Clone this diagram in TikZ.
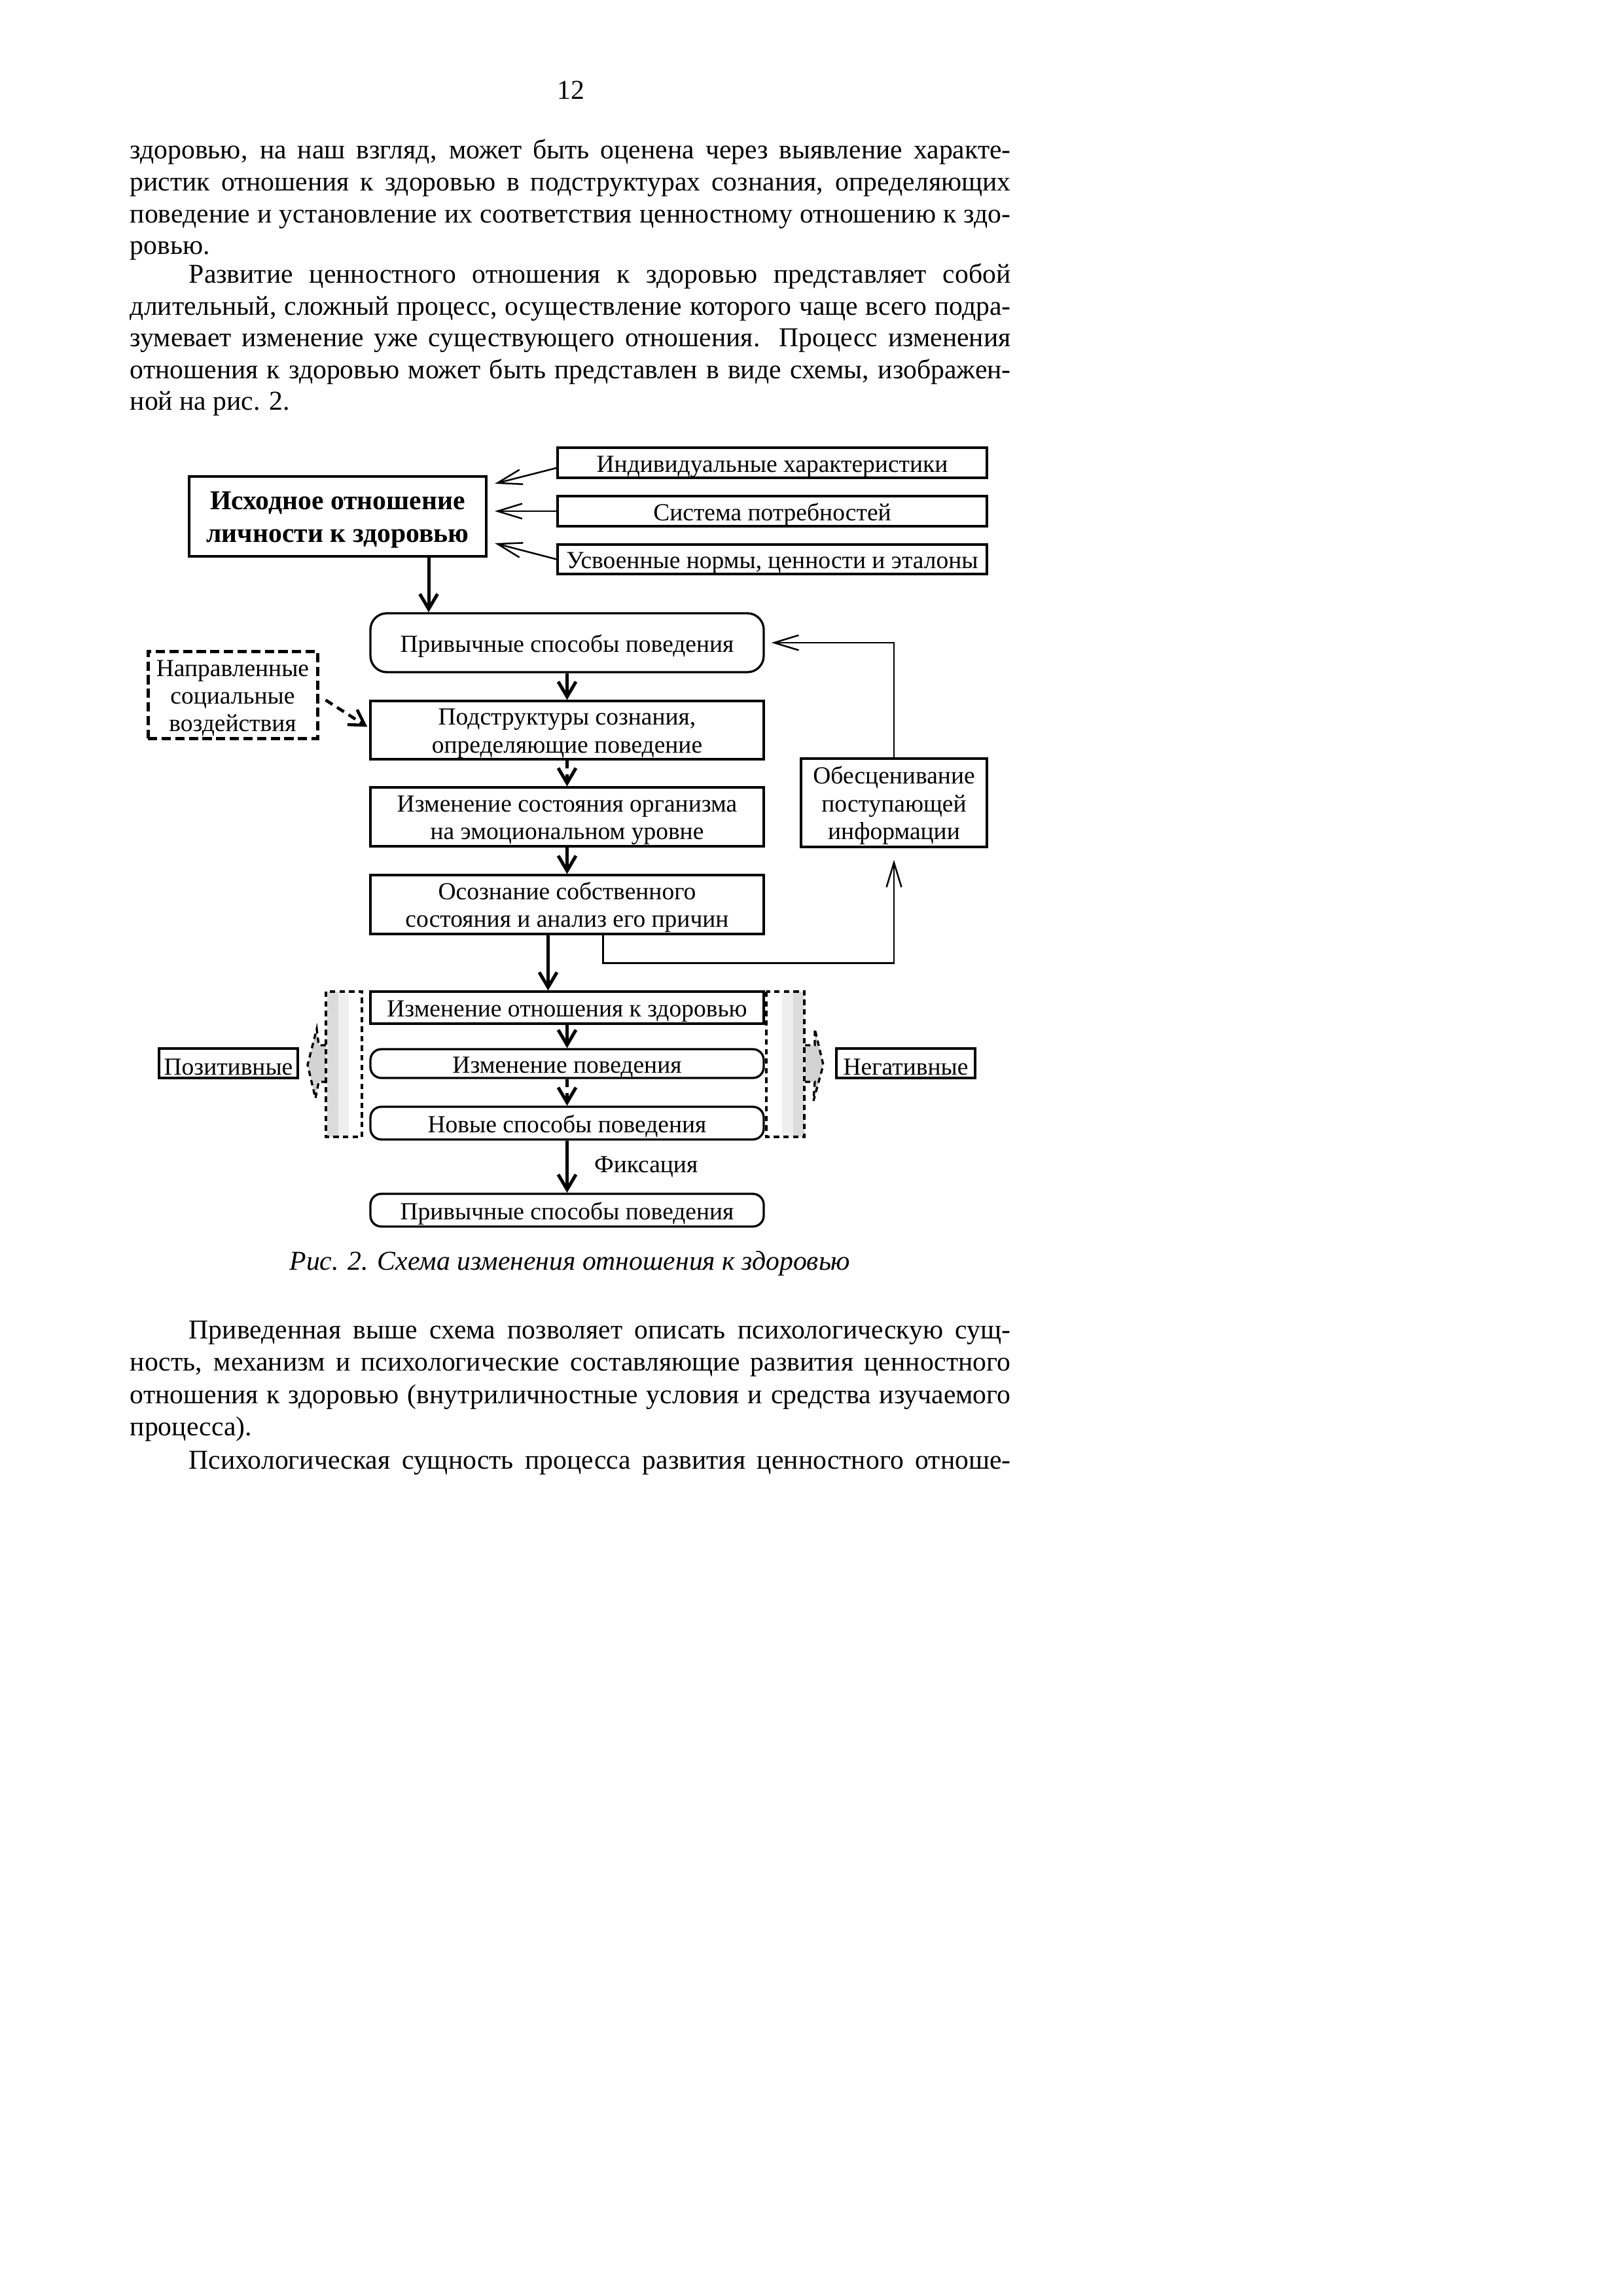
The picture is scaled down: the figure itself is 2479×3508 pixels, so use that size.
\documentclass[tikz,border=0pt]{standalone}
\usepackage{fontspec}
\setmainfont{Liberation Serif}
\usetikzlibrary{arrows.meta,calc}
\tikzset{
 bt/.style={font=\fontsize{10}{11.7}\selectfont, inner sep=0pt, anchor=base west},
 wd/.style={minimum width=#1*0.24pt},
 hg/.style={minimum height=#1*0.24pt},
 box/.style={draw, line width=0.8pt, inner sep=0pt, align=center, font=\fontsize{9}{10.1}\selectfont},
 oneline/.style={text height=8.7pt},
 twolines/.style={text height=18.5pt},
 threelines/.style={text height=28.6pt},
 rbox/.style={box, rounded corners=4pt},
 dbox/.style={box, line width=1.2pt, dash pattern=on 3.4pt off 1.6pt},
 arr/.style={line width=1.2pt, -{Straight Barb[length=5.5pt,width=6.5pt]}},
 tarr/.style={line width=0.6pt, -{Straight Barb[length=9pt,width=5.5pt]}},
 dsh/.style={dash pattern=on 3pt off 2pt},
 coldash/.style={line width=0.8pt, dash pattern=on 2pt off 1.5pt},
 sidearrow/.style={fill=gray!35, line width=0.8pt, dash pattern=on 2pt off 1.5pt},
 fixlabel/.style={font=\fontsize{9}{10.1}\selectfont, inner sep=0pt, anchor=west},
}
\begin{document}
\begin{tikzpicture}[x=0.24pt,y=-0.24pt]
\useasboundingbox (0,0) rectangle (2479,3508);
\fill[white] (0,0) rectangle (2479,3508);

% page number
\node[font=\fontsize{10}{12}\selectfont, inner sep=0pt, anchor=base] (pg) at (872,152) {12};

% paragraph 1 and 2
\node[bt] (l1) at (198,243) {\makebox[323pt][s]{здоровью, на наш взгляд, может быть оценена через выявление характе-}};
\node[bt] (l2) at (198,291.6) {\makebox[323pt][s]{ристик отношения к здоровью в подструктурах сознания, определяющих}};
\node[bt] (l3) at (198,340.2) {\makebox[323pt][s]{поведение и установление их соответствия ценностному отношению к здо-}};
\node[bt] (l4) at (198,388.8) {ровью.};
\node[bt] (l5) at (288,433) {\makebox[301.4pt][s]{Развитие ценностного отношения к здоровью представляет собой}};
\node[bt] (l6) at (198,481.5) {\makebox[323pt][s]{длительный, сложный процесс, осуществление которого чаще всего подра-}};
\node[bt] (l7) at (198,530) {\makebox[323pt][s]{зумевает изменение уже существующего отношения. Процесс изменения}};
\node[bt] (l8) at (198,578.5) {\makebox[323pt][s]{отношения к здоровью может быть представлен в виде схемы, изображен-}};
\node[bt] (l9) at (198,627) {ной на рис. 2.};

% caption
\node[font=\itshape\fontsize{10}{12}\selectfont, inner sep=0pt, anchor=base] (cap) at (871,1940) {Рис. 2. Схема изменения отношения к здоровью};

% paragraph 3 and 4
\node[bt] (l10) at (288,2045) {\makebox[301.4pt][s]{Приведенная выше схема позволяет описать психологическую сущ-}};
\node[bt] (l11) at (198,2094.5) {\makebox[323pt][s]{ность, механизм и психологические составляющие развития ценностного}};
\node[bt] (l12) at (198,2144) {\makebox[323pt][s]{отношения к здоровью (внутриличностные условия и средства изучаемого}};
\node[bt] (l13) at (198,2193.5) {процесса).};
\node[bt] (l14) at (288,2244) {\makebox[301.4pt][s]{Психологическая сущность процесса развития ценностного отноше-}};

% side arrows (positive / negative)
\draw[sidearrow] (498,1597) -- (487,1597) -- (484,1572) -- (470,1627) -- (482,1678) -- (487,1653) -- (498,1653);
\draw[sidearrow] (1230,1597) -- (1245,1597) -- (1245,1572) -- (1258,1627) -- (1243,1682) -- (1245,1653) -- (1230,1653);

% side columns
\fill[gray!28] (500,1515) rectangle (517,1737);
\fill[gray!13] (517,1515) rectangle (533,1737);
\draw[coldash] (498,1515) rectangle (553,1737);
\fill[gray!13] (1195,1515) rectangle (1212,1737);
\fill[gray!28] (1212,1515) rectangle (1229,1737);
\draw[coldash] (1171,1515) rectangle (1229,1737);

% diagram boxes
\node[box, wd=454, hg=122, line width=1pt, text height=20.9pt, font=\bfseries\fontsize{10}{11.8}\selectfont] (main) at (516,789) {Исходное отношение\\личности к здоровью};
\node[box, oneline, wd=656, hg=46] (in1) at (1180,707) {Индивидуальные характеристики};
\node[box, oneline, wd=656, hg=46] (in2) at (1180,781) {Система потребностей};
\node[box, oneline, wd=656, hg=45] (in3) at (1180,854.5) {Усвоенные нормы, ценности и эталоны};
\node[rbox, oneline, rounded corners=6pt, wd=601, hg=90] (hab1) at (866.5,982) {Привычные способы поведения};
\node[box, twolines, wd=601, hg=89] (pod) at (866.5,1115.5) {Подструктуры сознания,\\определяющие поведение};
\node[box, twolines, wd=601, hg=90] (sost) at (866.5,1248) {Изменение состояния организма\\на эмоциональном уровне};
\node[box, twolines, wd=601, hg=90] (osoz) at (866.5,1382) {Осознание собственного\\состояния и анализ его причин};
\node[box, threelines, wd=284, hg=135] (obes) at (1366,1226.5) {Обесценивание\\поступающей\\информации};
\node[dbox, threelines, wd=259, hg=133] (soc) at (355.5,1061.5) {Направленные\\социальные\\воздействия};
\node[box, oneline, wd=601, hg=49] (otn) at (866.5,1539.5) {Изменение отношения к здоровью};
\node[rbox, oneline, wd=601, hg=44] (pov) at (866.5,1625) {Изменение поведения};
\node[rbox, oneline, wd=601, hg=50] (nov) at (866.5,1716) {Новые способы поведения};
\node[rbox, oneline, wd=601, hg=50] (hab2) at (866.5,1849) {Привычные способы поведения};
\node[box, oneline, wd=212, hg=45] (pos) at (349,1624.5) {Позитивные};
\node[box, oneline, wd=212, hg=45] (neg) at (1384,1624.5) {Негативные};

% connectors
\draw[tarr] ($(in1.west)+(0,8)$) -- ($(main.east)+(11,-50)$);
\draw[tarr] (in2.west) -- ($(main.east)+(11,-8)$);
\draw[tarr] (in3.west) -- ($(main.east)+(11,41)$);
\coordinate (m1) at ($(main.south)+(139,0)$);
\draw[arr] (m1) -- (m1 |- hab1.north);
\draw[arr] (hab1.south) -- (pod.north);
\draw[arr, dsh] (pod.south) -- (sost.north);
\draw[arr] (sost.south) -- (osoz.north);
\coordinate (o1) at ($(osoz.south)+(-29,0)$);
\draw[arr] (o1) -- (o1 |- otn.north);
\coordinate (o2) at ($(osoz.south)+(55,0)$);
\draw[tarr] (o2) -- ++(0,43) -| ($(obes.south)+(0,18)$);
\draw[tarr] (obes.north) |- ($(hab1.east)+(10,0)$);
\draw[arr, dsh, line width=1.1pt] ($(soc.east)+(10,8)$) -- ($(pod.west)+(-3,-5)$);
\draw[arr] (otn.south) -- (pov.north);
\draw[arr, dsh] (pov.south) -- (nov.north);
\draw[arr] (nov.south) -- (hab2.north) node[fixlabel, pos=0.5, xshift=9.4pt] (fix) {Фиксация};
\end{tikzpicture}
\end{document}
